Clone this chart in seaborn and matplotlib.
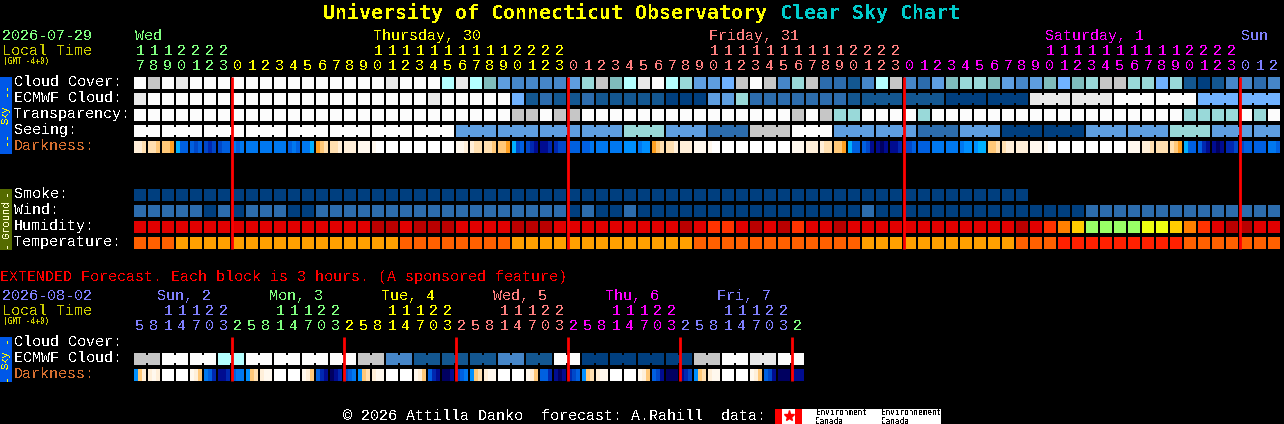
import numpy as np
import matplotlib
matplotlib.use("Agg")
import matplotlib.pyplot as plt
from matplotlib.colors import ListedColormap
from matplotlib.patches import Rectangle
import seaborn as sns

W, H = 1284, 424

# cloud scale, level 0 = clear ... 11 = overcast
cloud_colors = ["#003f7f", "#135791", "#2c6cad", "#4686c8", "#5e9ee0", "#70b2ff",
                "#7fbcbc", "#99d9d9", "#b4ffff", "#c6c6c6", "#e9e9e9", "#fcfcfc"]
humid_colors = ["#b90000", "#e20000", "#ff3300", "#ff8000", "#ffcc00", "#eeff11", "#99ff66"]
temp_colors = ["#ff2000", "#ff6000", "#ffa000"]
dark_colors = ["#ffffff", "#fff8ee", "#ffefd9", "#ffdfb0", "#ffc878", "#ffa020", "#00b0ff",
               "#0090ff", "#0078f0", "#0060e0", "#0048c8", "#0028b0", "#000c90", "#000060"]

cloud_cover = [11, 9, 11, 10, 11, 11, 11, 11, 11, 11, 11, 11, 11, 11, 11, 11, 11, 11, 10, 11, 11,
               11, 8, 10, 8, 6, 4, 3, 3, 3, 3, 4, 7, 9, 6, 8, 10, 11, 8, 7, 4, 4, 5, 9, 11, 9, 3, 7, 9, 2, 2, 1,
               3, 8, 9, 3, 2, 4, 6, 7, 7, 6, 4, 3, 4, 6, 5, 6, 7, 9, 9, 7, 7, 5, 7, 1, 0, 1, 3, 3, 2, 3]
ecmwf_cloud = [10, 11, 11, 11, 11, 11, 11, 11, 11, 11, 11, 11, 11, 11, 11, 11, 11, 11, 11, 11, 11,
               10, 11, 11, 11, 11, 11, 5, 1, 2, 1, 1, 2, 1, 1, 1, 1, 1, 0, 0, 0, 4, 4, 7, 2, 2, 2, 2, 2, 2, 2, 1,
               1, 1, 1, 1, 1, 1, 0, 0, 0, 0, 0, 0, 10, 10, 10, 10, 10, 10, 11, 11, 11, 11, 11, 11, 5, 5, 5, 5, 5, 5]
transparency = [11, 11, 11, 11, 11, 11, 11, 11, 11, 11, 11, 11, 11, 11, 11, 11, 11, 11, 11, 11, 11,
                11, 11, 11, 11, 11, 11, 9, 9, 11, 9, 9, 11, 11, 11, 11, 11, 11, 11, 11, 11, 11, 11, 11, 11, 11, 11, 9, 11, 9, 7, 7,
                11, 11, 11, 11, 7, 11, 11, 11, 11, 11, 11, 11, 11, 11, 11, 11, 11, 11, 11, 11, 11, 11, 11, 7, 7, 7, 7, 11, 7, 11]
seeing = [11, 11, 11, 11, 11, 11, 11, 11, 11, 11, 11, 11, 11, 11, 11, 11, 11, 11, 11, 11, 11,
          11, 11, 4, 4, 4, 4, 4, 4, 4, 4, 4, 4, 4, 4, 7, 7, 7, 4, 4, 4, 2, 2, 2, 9, 9, 9, 11, 11, 11, 4, 4,
          4, 4, 4, 4, 2, 2, 2, 4, 4, 4, 0, 0, 0, 0, 0, 0, 4, 4, 4, 4, 4, 4, 7, 7, 7, 4, 4, 4, 4, 4]
smoke = [0] * 64 + [np.nan] * 18
wind = [2, 2, 2, 2, 2, 0, 2, 0, 2, 2, 2, 0, 0, 2, 2, 2, 2, 2, 2, 2, 2,
        2, 2, 2, 2, 2, 2, 2, 2, 2, 2, 0, 2, 0, 0, 2, 0, 0, 0, 0, 0, 0, 0, 0, 0, 0, 0, 0, 0, 0, 0, 0,
        2, 0, 0, 0, 0, 0, 0, 0, 0, 0, 0, 0, 0, 0, 0, 0, 2, 2, 2, 2, 2, 2, 2, 2, 2, 2, 2, 2, 2, 2]
humidity = [1, 1, 1, 1, 1, 1, 1, 1, 1, 1, 1, 1, 1, 1, 1, 1, 1, 0, 0, 1, 0,
            0, 0, 1, 1, 1, 1, 0, 0, 0, 1, 1, 1, 1, 1, 1, 1, 1, 1, 0, 1, 2, 2, 1, 0, 1, 0, 2, 1, 1, 0, 1,
            1, 1, 1, 1, 1, 1, 1, 1, 1, 1, 1, 0, 1, 2, 3, 4, 6, 6, 6, 6, 5, 5, 4, 3, 2, 1, 0, 0, 1, 1]
temperature = [1, 1, 1, 2, 2, 2, 2, 2, 2, 2, 2, 2, 2, 2, 2, 2, 2, 2, 2, 1, 1,
               1, 1, 1, 1, 1, 1, 2, 2, 2, 2, 2, 2, 2, 2, 2, 2, 2, 2, 2, 1, 1, 1, 1, 1, 1, 1, 1, 1, 1, 1, 1,
               2, 2, 2, 2, 2, 2, 2, 2, 2, 2, 2, 1, 1, 1, 0, 0, 0, 0, 0, 0, 0, 0, 0, 1, 1, 1, 1, 1, 1, 1]
# three samples across each block
darkness = [2, 2, 3, 3, 3, 4, 4, 4, 5, 6, 9, 9, 9, 10, 9, 10, 11, 10, 10, 9, 9, 8, 9, 8,
            8, 8, 8, 8, 8, 8, 8, 8, 8, 9, 8, 9, 8, 8, 6, 5, 4, 3, 3, 3, 2, 2, 2, 2, 1, 1, 1, 1, 0, 0,
            0, 0, 0, 0, 0, 0, 0, 0, 0, 0, 0, 0, 0, 0, 0, 1, 1, 2, 2, 3, 3, 3, 3, 4, 4, 4, 5,
            6, 10, 9, 10, 11, 12, 12, 12, 11, 11, 10, 10, 9, 9, 9, 9, 9, 8, 8, 8, 8, 8, 8, 8, 7, 7, 7,
            8, 7, 7, 5, 4, 3, 3, 3, 2, 2, 2, 2, 1, 1, 1, 1, 0, 0,
            0, 0, 0, 0, 0, 0, 0, 0, 0, 0, 0, 0, 0, 0, 0, 1, 1, 1, 2, 2, 2, 2, 3, 3, 4, 4, 5, 6, 9, 9,
            9, 10, 12, 12, 13, 12, 12, 12, 11, 10, 10, 9, 9, 9, 9, 8, 8, 8, 8, 8, 8, 8, 7, 7, 7, 6, 6,
            4, 4, 3, 3, 2, 2, 2, 2, 2, 1, 1, 1, 1, 0, 0,
            0, 0, 0, 0, 0, 0, 0, 0, 0, 0, 0, 0, 0, 0, 0, 1, 1, 1, 2, 2, 3, 3, 3, 3, 3, 4, 5,
            6, 9, 9, 9, 11, 12, 12, 13, 12, 11, 11, 10, 10, 9, 9, 9, 9, 9, 8, 8, 9]

ext_ecmwf = [9, 9, 11, 11, 11, 11, 8, 8, 11, 11, 11, 11, 11, 11, 11, 11, 9, 9, 3, 3, 1, 1, 1, 1,
             1, 1, 3, 3, 1, 1, 11, 11, 0, 0, 0, 0, 0, 0, 0, 0, 9, 9, 11, 11, 10, 10, 11, 11]
ext_darkness = [7, 4, 2, 2, 1, 2, 0, 0, 0, 0, 0, 0, 1, 2, 4, 8, 9, 11, 12, 12, 11, 9, 8, 8,
                7, 4, 3, 2, 1, 1, 0, 0, 0, 0, 0, 0, 1, 2, 4, 9, 11, 12, 13, 12, 11, 10, 9, 8,
                7, 4, 3, 2, 1, 1, 0, 0, 0, 0, 0, 0, 1, 2, 4, 9, 11, 12, 13, 13, 12, 10, 9, 8,
                7, 4, 3, 2, 1, 1, 0, 0, 0, 0, 0, 0, 1, 2, 4, 9, 9, 11, 12, 13, 12, 11, 10, 9,
                7, 4, 3, 2, 1, 1, 0, 0, 0, 0, 0, 0, 1, 2, 4, 9, 10, 12, 13, 13, 13, 12, 11, 10,
                7, 4, 3, 2, 1, 1, 0, 0, 0, 0, 0, 0, 1, 2, 4, 9, 10, 12, 13, 13, 13, 12, 12, 12]

hours = list(range(17, 24)) + list(range(24)) * 3 + list(range(3))
ext_hours = [5, 8, 11, 14, 17, 20, 23] + [2, 5, 8, 11, 14, 17, 20, 23] * 5 + [2]

BLUE, GREEN, YELLOW, SALMON, MAGENTA = "#8080ff", "#80ff80", "#ffff00", "#ff8080", "#ff00ff"
hour_colors = [GREEN] * 7 + [YELLOW] * 24 + [SALMON] * 24 + [MAGENTA] * 24 + [BLUE] * 3
ext_colors = [BLUE] * 7 + [GREEN] * 8 + [YELLOW] * 8 + [SALMON] * 8 + [MAGENTA] * 8 + [BLUE] * 8 + [GREEN]

day_labels = ["Wed", "Thursday, 30", "Friday, 31", "Saturday, 1", "Sun"]
day_cells = [0, 17, 41, 65, 79]
day_colors = [GREEN, YELLOW, SALMON, MAGENTA, BLUE]
ext_day_labels = ["Sun, 2", "Mon, 3", "Tue, 4", "Wed, 5", "Thu, 6", "Fri, 7"]
ext_day_colors = [BLUE, GREEN, YELLOW, SALMON, MAGENTA, BLUE]

sns.set_theme(style="dark")
plt.rcParams["font.family"] = ["Liberation Mono", "DejaVu Sans Mono"]
plt.rcParams["text.antialiased"] = False

fig = plt.figure(figsize=(W / 100, H / 100), dpi=100, facecolor="black")


def pixel_axes(x, y, w, h):
    return fig.add_axes([x / W, 1 - (y + h) / H, w / W, h / H], facecolor="black")


def draw_row(values, colors, top, samples=1, bridge=None):
    # blocks are 14 px apart with a 2 px gap, so the axes starts 1 px before block 0
    n = len(values) // samples
    ax = pixel_axes(133, top, 14 * n, 12)
    sns.heatmap(np.array([values], dtype=float), ax=ax, cmap=ListedColormap(colors),
                vmin=-0.5, vmax=len(colors) - 0.5, cbar=False,
                xticklabels=False, yticklabels=False)
    ax.vlines(np.arange(n + 1) * samples, 0, 1, colors="black", linewidth=1.44)
    if bridge is not None:
        start, size, first = bridge
        for i in range(max(first, 1), n):
            if (i - start) % size != 0 and values[i] == values[i - 1]:
                ax.vlines(i, 0.17, 0.83, colors=colors[values[i]], linewidth=1.44)
    ax.set_xlim(0, n * samples)
    return ax


draw_row(cloud_cover, cloud_colors, 77)
draw_row(ecmwf_cloud, cloud_colors, 93, bridge=(1, 3, 52))
draw_row(transparency, cloud_colors, 109)
draw_row(seeing, cloud_colors, 125, bridge=(2, 3, 0))
draw_row(darkness, dark_colors, 141, samples=3)
draw_row(smoke, cloud_colors, 189)
draw_row(wind, cloud_colors, 205)
draw_row(humidity, humid_colors, 221)
draw_row(temperature, temp_colors, 237)
draw_row(ext_ecmwf, cloud_colors, 353, bridge=(0, 2, 0))
draw_row(ext_darkness, dark_colors, 369, samples=3)

# overlay in pixel coordinates for the text, side bars and midnight lines
ov = fig.add_axes([0, 0, 1, 1], facecolor="none", zorder=5)
ov.set_xlim(0, W)
ov.set_ylim(H, 0)
ov.axis("off")


def label(x, y, s, color="white", size=10.8, **kw):
    ov.text(x, y, s, color=color, fontsize=size, va="baseline", **kw)


def side_text(y, s, color):
    ov.text(6, y, s, color=color, fontsize=7.6, rotation=90, ha="center", va="center")


label(323, 19, "University of Connecticut Observatory", YELLOW, 14.4,
      fontweight="bold", family="DejaVu Sans Mono")
label(780, 19, "Clear Sky Chart", "#00cccc", 14.4, fontweight="bold", family="DejaVu Sans Mono")

label(2, 40, "2026-07-29", GREEN)
label(2, 55, "Local Time", "#cccc00")
label(3, 64, "(GMT -4+0)", "#cccc00", 5.6, family="DejaVu Sans Mono")
for cell, s, c in zip(day_cells, day_labels, day_colors):
    label(135 + 14 * cell, 40, s, c)
for i, (hr, c) in enumerate(zip(hours, hour_colors)):
    if hr >= 10:
        label(140 + 14 * i, 55, str(hr // 10), c, ha="center")
    label(140 + 14 * i, 70, str(hr % 10), c, ha="center")

sky_rows = ["Cloud Cover:", "ECMWF Cloud:", "Transparency:", "Seeing:", "Darkness:"]
ground_rows = ["Smoke:", "Wind:", "Humidity:", "Temperature:"]
for k, s in enumerate(sky_rows):
    label(14, 86 + 16 * k, s, "#d87030" if s == "Darkness:" else "white")
for k, s in enumerate(ground_rows):
    label(14, 198 + 16 * k, s)

ov.add_patch(Rectangle((0, 77), 12, 77, color="#0058e8", lw=0))
side_text(90, "--", "#ffff00")
side_text(115, "Sky", "#ffff00")
side_text(139, "--", "#ffff00")
ov.add_patch(Rectangle((0, 189), 12, 61, color="#556b00", lw=0))
side_text(193, "-", "#ffffcc")
side_text(219, "Ground", "#ffffcc")
side_text(245, "-", "#ffffcc")

label(0, 281, "EXTENDED Forecast. Each block is 3 hours. (A sponsored feature)", "#ff0000")
label(2, 300, "2026-08-02", BLUE)
label(2, 315, "Local Time", "#cccc00")
label(3, 324, "(GMT -4+0)", "#cccc00", 5.6, family="DejaVu Sans Mono")
for k, (s, c) in enumerate(zip(ext_day_labels, ext_day_colors)):
    label(157 + 112 * k, 300, s, c)
for i, (hr, c) in enumerate(zip(ext_hours, ext_colors)):
    if hr >= 10:
        label(140 + 14 * i, 315, str(hr // 10), c, ha="center")
    label(140 + 14 * i, 330, str(hr % 10), c, ha="center")
label(14, 346, "Cloud Cover:")
label(14, 362, "ECMWF Cloud:")
label(14, 378, "Darkness:", "#d87030")
ov.add_patch(Rectangle((0, 337), 12, 45, color="#0058e8", lw=0))
side_text(340, "-", "#ffff00")
side_text(360, "Sky", "#ffff00")
side_text(378, "-", "#ffff00")

# red lines fall on local midnight
midnights = [i for i, hr in enumerate(hours) if hr == 0]
ov.vlines([134 + 14 * i - 0.5 for i in midnights], 77, 249, colors="#ff0000", linewidth=2.0)
ext_midnights = [i + 1 for i, hr in enumerate(ext_hours) if hr == 23]
ov.vlines([134 + 14 * i - 0.5 for i in ext_midnights], 337, 381, colors="#ff0000", linewidth=2.0)

label(343, 420, "\u00a9 2026 Attilla Danko  forecast: A.Rahill  data:")
ov.add_patch(Rectangle((775, 409), 166, 15, color="white", lw=0))
ov.add_patch(Rectangle((775, 409), 7, 15, color="#ff0000", lw=0))
ov.add_patch(Rectangle((795, 409), 7, 15, color="#ff0000", lw=0))
ov.plot([788.5], [416], marker="*", color="#ff0000", markersize=8)
for x, s in [(816, "Environment\nCanada"), (881, "Environnement\nCanada")]:
    ov.text(x, 417, s, color="black", fontsize=5.6, va="center", linespacing=1.0,
            family="DejaVu Sans Mono")

fig.savefig("out.png", dpi=100, facecolor="black")
